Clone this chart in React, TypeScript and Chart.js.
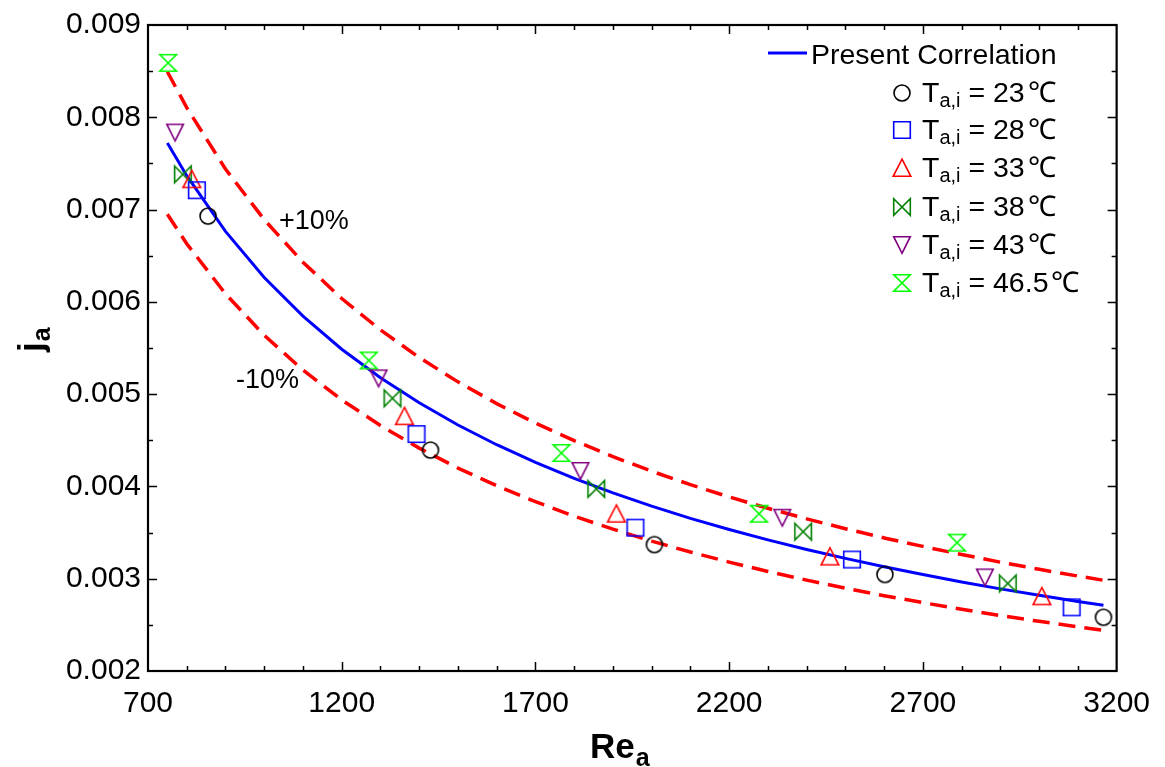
import React, { useEffect, useRef } from "react";
import { Chart, registerables } from "chart.js";

Chart.register(...registerables);

const FONT = '"Liberation Sans", Arial, Helvetica, sans-serif';

// Axis ticks
const xMajorTicks = [700, 1200, 1700, 2200, 2700, 3200];
const yMajorTicks = [0.002, 0.003, 0.004, 0.005, 0.006, 0.007, 0.008, 0.009];

// Present correlation curve and the +/-10% bands
const curveRe = [750, 800, 900, 1000, 1100, 1200, 1300, 1400, 1500, 1600, 1700, 1800, 1900, 2000, 2100, 2200, 2300, 2400, 2500, 2600, 2700, 2800, 2900, 3000, 3100, 3166];
const curveJ = [0.007721, 0.007367, 0.006763, 0.006264, 0.005845, 0.005487, 0.005178, 0.004906, 0.004666, 0.004452, 0.004261, 0.004087, 0.00393, 0.003786, 0.003654, 0.003533, 0.003421, 0.003317, 0.00322, 0.003129, 0.003045, 0.002965, 0.00289, 0.00282, 0.002754, 0.002712];
const upperJ = [0.008493, 0.008104, 0.007439, 0.00689, 0.00643, 0.006036, 0.005696, 0.005397, 0.005133, 0.004897, 0.004687, 0.004496, 0.004323, 0.004165, 0.004019, 0.003886, 0.003763, 0.003649, 0.003542, 0.003442, 0.00335, 0.003262, 0.003179, 0.003102, 0.003029, 0.002983];
const lowerJ = [0.006949, 0.00663, 0.006087, 0.005638, 0.005261, 0.004938, 0.00466, 0.004415, 0.004199, 0.004007, 0.003835, 0.003678, 0.003537, 0.003407, 0.003289, 0.00318, 0.003079, 0.002985, 0.002898, 0.002816, 0.002741, 0.002669, 0.002601, 0.002538, 0.002479, 0.002441];

// Experimental points
const re23 = [855, 1429, 2007, 2602, 3166];
const j23 = [0.006929, 0.004394, 0.00337, 0.003046, 0.002582];
const re28 = [826, 1393, 1958, 2517, 3084];
const j28 = [0.00721, 0.004567, 0.003553, 0.003208, 0.00269];
const re33 = [813, 1362, 1909, 2460, 3007];
const j33 = [0.007328, 0.004761, 0.003704, 0.00324, 0.002809];
const re38 = [790, 1331, 1857, 2391, 2919];
const j38 = [0.007382, 0.004955, 0.003974, 0.00351, 0.002949];
const re43 = [770, 1295, 1816, 2337, 2860];
const j43 = [0.007835, 0.005171, 0.004168, 0.003661, 0.003014];
const re465 = [752, 1270, 1767, 2277, 2788];
const j465 = [0.00859, 0.005365, 0.004362, 0.003704, 0.003391];

const seriesTemps = ["23", "28", "33", "38", "43", "46.5"];
const seriesColors = ["#000000", "#0000ff", "#ff0000", "#008000", "#800080", "#00ff00"];
const seriesShapes = ["circle", "square", "triUp", "bowtie", "triDown", "hourglass"];

function makeMarker(shape: string, color: string): HTMLCanvasElement {
  const c = document.createElement("canvas");
  c.width = 22;
  c.height = 22;
  const g = c.getContext("2d")!;
  g.strokeStyle = color;
  g.lineWidth = 1.6;
  g.lineJoin = "miter";
  const cx = 11, cy = 11, h = 8.3;
  g.beginPath();
  if (shape === "circle") {
    g.arc(cx, cy, 8, 0, Math.PI * 2);
  } else if (shape === "square") {
    g.rect(cx - h, cy - h, 2 * h, 2 * h);
  } else if (shape === "triUp") {
    g.moveTo(cx, cy - h - 0.5);
    g.lineTo(cx + h + 0.5, cy + h);
    g.lineTo(cx - h - 0.5, cy + h);
    g.closePath();
  } else if (shape === "triDown") {
    g.moveTo(cx, cy + h);
    g.lineTo(cx + h, cy - h);
    g.lineTo(cx - h, cy - h);
    g.closePath();
  } else if (shape === "bowtie") {
    g.moveTo(cx - h, cy - h);
    g.lineTo(cx + h, cy + h);
    g.lineTo(cx + h, cy - h);
    g.lineTo(cx - h, cy + h);
    g.closePath();
  } else if (shape === "hourglass") {
    g.moveTo(cx - h, cy - h);
    g.lineTo(cx + h, cy - h);
    g.lineTo(cx - h, cy + h);
    g.lineTo(cx + h, cy + h);
    g.closePath();
  }
  g.stroke();
  return c;
}

function pts(xs: number[], ys: number[]) {
  return xs.map((x, i) => ({ x, y: ys[i] }));
}

export default function App() {
  const ref = useRef<HTMLCanvasElement | null>(null);

  useEffect(() => {
    if (!ref.current) return;
    const markers = seriesShapes.map((s, i) => makeMarker(s, seriesColors[i]));
    const seriesRe = [re23, re28, re33, re38, re43, re465];
    const seriesJ = [j23, j28, j33, j38, j43, j465];

    const decor = {
      id: "decor",
      afterDraw(chart: any) {
        const { ctx, chartArea, scales } = chart;
        const { left, right, top, bottom } = chartArea;
        const xs = scales.x;
        const ys = scales.y;
        ctx.save();
        ctx.strokeStyle = "#000";
        // ticks
        ctx.lineWidth = 1.5;
        for (let v = 800; v < 3200; v += 100) {
          const px = Math.round(xs.getPixelForValue(v)) + 0.5;
          const len = xMajorTicks.includes(v) ? 9 : 5;
          ctx.beginPath();
          ctx.moveTo(px, bottom);
          ctx.lineTo(px, bottom - len);
          ctx.moveTo(px, top);
          ctx.lineTo(px, top + len);
          ctx.stroke();
        }
        for (let i = 1; i < 14; i++) {
          const v = 0.002 + i * 0.0005;
          const py = Math.round(ys.getPixelForValue(v)) + 0.5;
          const len = i % 2 === 0 ? 9 : 5;
          ctx.beginPath();
          ctx.moveTo(left, py);
          ctx.lineTo(left + len, py);
          ctx.moveTo(right, py);
          ctx.lineTo(right - len, py);
          ctx.stroke();
        }
        // frame
        ctx.lineWidth = 2.2;
        ctx.strokeRect(left, top, right - left, bottom - top);

        ctx.fillStyle = "#000";
        ctx.textBaseline = "alphabetic";
        ctx.textAlign = "left";
        // x title
        ctx.font = `bold 35px ${FONT}`;
        ctx.fillText("Re", 590, 758);
        const wRe = ctx.measureText("Re").width;
        ctx.font = `bold 25px ${FONT}`;
        ctx.fillText("a", 590 + wRe + 1, 766);
        // y title
        ctx.save();
        ctx.translate(43, 352);
        ctx.rotate(-Math.PI / 2);
        ctx.font = `bold 35px ${FONT}`;
        ctx.fillText("j", 0, 0);
        const wj = ctx.measureText("j").width;
        ctx.font = `bold 25px ${FONT}`;
        ctx.fillText("a", wj + 1, 7);
        ctx.restore();

        // band labels
        ctx.font = `27px ${FONT}`;
        ctx.fillText("+10%", 279, 229);
        ctx.fillText("-10%", 236, 388);

        // legend
        ctx.strokeStyle = "#0000ff";
        ctx.lineWidth = 3;
        ctx.beginPath();
        ctx.moveTo(768, 53);
        ctx.lineTo(807, 53);
        ctx.stroke();
        ctx.font = `28.5px ${FONT}`;
        ctx.fillText("Present Correlation", 811, 64);
        const rowY = [93, 130, 168, 207, 245, 283];
        seriesTemps.forEach((t, i) => {
          const cy = rowY[i];
          const m = markers[i];
          ctx.drawImage(m, 902 - m.width / 2, cy - m.height / 2);
          let x = 922;
          const base = cy + 9;
          ctx.font = `28.5px ${FONT}`;
          ctx.fillText("T", x, base);
          x += ctx.measureText("T").width;
          ctx.font = `20px ${FONT}`;
          ctx.fillText("a,i", x, base + 5);
          x += ctx.measureText("a,i").width;
          ctx.font = `28.5px ${FONT}`;
          ctx.fillText(" = " + t, x, base);
          x += ctx.measureText(" = " + t).width + 3;
          ctx.fillText("\u2103", x, base);
        });
        ctx.restore();
      },
    };

    const lineDs = (data: any, color: string, dash: number[], width: number) => ({
      type: "line" as const,
      data,
      borderColor: color,
      backgroundColor: color,
      borderWidth: width,
      borderDash: dash,
      pointRadius: 0,
      showLine: true,
      fill: false,
      tension: 0,
    });

    const datasets: any[] = [];
    seriesTemps.forEach((t, i) => {
      datasets.push({
        type: "scatter",
        label: "T_a,i = " + t + "\u2103",
        data: pts(seriesRe[i], seriesJ[i]),
        pointStyle: markers[i],
        pointRadius: 9,
        borderColor: seriesColors[i],
        backgroundColor: seriesColors[i],
        showLine: false,
      });
    });
    datasets.push({ label: "Present Correlation", ...lineDs(pts(curveRe, curveJ), "#0000ff", [], 3) });
    datasets.push({ label: "+10%", ...lineDs(pts(curveRe, upperJ), "#ff0000", [17, 9], 3.5) });
    datasets.push({ label: "-10%", ...lineDs(pts(curveRe, lowerJ), "#ff0000", [17, 9], 3.5) });

    const chart = new Chart(ref.current, {
      type: "scatter",
      data: { datasets },
      options: {
        animation: false,
        responsive: false,
        devicePixelRatio: 1,
        events: [],
        layout: { padding: { top: 22, right: 47, left: 0, bottom: 0 } },
        plugins: { legend: { display: false }, tooltip: { enabled: false } },
        scales: {
          x: {
            type: "linear",
            min: 700,
            max: 3200,
            afterBuildTicks: (s: any) => {
              s.ticks = xMajorTicks.map((v) => ({ value: v }));
            },
            ticks: {
              color: "#000",
              font: { family: FONT, size: 30 },
              padding: 15,
              maxRotation: 0,
              autoSkip: false,
              callback: (v: any) => String(v),
            },
            grid: { display: false, drawTicks: false },
            border: { display: false },
            afterFit: (s: any) => {
              s.height = 96;
            },
          },
          y: {
            type: "linear",
            min: 0.002,
            max: 0.009,
            afterBuildTicks: (s: any) => {
              s.ticks = yMajorTicks.map((v) => ({ value: v }));
            },
            ticks: {
              color: "#000",
              font: { family: FONT, size: 30 },
              padding: 7,
              autoSkip: false,
              callback: (v: any) => Number(v).toFixed(3),
            },
            grid: { display: false, drawTicks: false },
            border: { display: false },
            afterFit: (s: any) => {
              s.width = 148;
            },
          },
        },
      },
      plugins: [decor],
    } as any);
    return () => chart.destroy();
  }, []);

  return (
    <div style={{ position: "fixed", left: 0, top: 0, width: 1165, height: 767, background: "#fff" }}>
      <canvas ref={ref} width={1165} height={767} style={{ display: "block", width: 1165, height: 767 }} />
    </div>
  );
}
